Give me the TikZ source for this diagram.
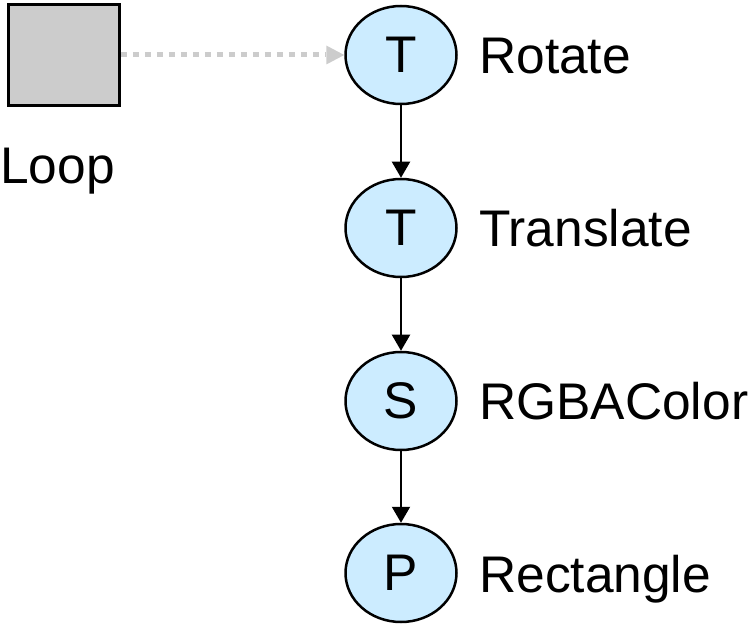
\documentclass[tikz,border=0pt]{standalone}
\usepackage{fontspec}
\setmainfont{Liberation Sans}
\usetikzlibrary{shapes.geometric}
\usetikzlibrary{arrows.meta}
\definecolor{nodeblue}{RGB}{204,236,255}
\definecolor{loopgray}{RGB}{204,204,204}
\tikzset{x=1pt, y=-1pt,
every node/.style={ % Sets the font for all texts
font=\fontsize{51.5}{60}\selectfont},
op/.style={ % Sets the properties for each operation
ellipse, draw, line width=2.5pt,
fill=nodeblue,
minimum width=111pt, minimum height=98pt, inner sep=0pt},
loopbox/.style={
draw, line width=2.5pt, fill=loopgray,
minimum width=111pt, minimum height=101pt, inner sep=0pt},
optext/.style={anchor=base west, inner sep=0pt},
link/.style={ % Sets the properties for each connection
draw, line width=2pt,
-{Triangle[length=16pt, width=18pt]}},
loopline/.style={
draw=loopgray, line width=5pt, dash pattern=on 6pt off 6pt,
-{Triangle[length=18pt, width=19pt, line width=0pt]}}}

\begin{document}
\begin{tikzpicture}
	\useasboundingbox (0,0) rectangle (753,628);
	\node[loopbox] (loop) at (64,55) {};
	\node[optext] (looptext) at (0,184) {Loop};
	\node[op] (t1) at (401,55) {T};
	\node[op] (t2) at (401,228) {T};
	\node[op] (s1) at (401,401) {S};
	\node[op] (p1) at (401,573) {P};
	\node[optext] (rotate) at (479,74) {Rotate};
	\node[optext] (translate) at (479,247) {Translate};
	\node[optext] (color) at (479,420) {RGBAColor};
	\node[optext] (rect) at (479,592) {Rectangle};
	\draw[loopline] (loop.east) -- (t1.west);
	\draw[link] (t1) -- (t2);
	\draw[link] (t2) -- (s1);
	\draw[link] (s1) -- (p1);
\end{tikzpicture}
\end{document}
